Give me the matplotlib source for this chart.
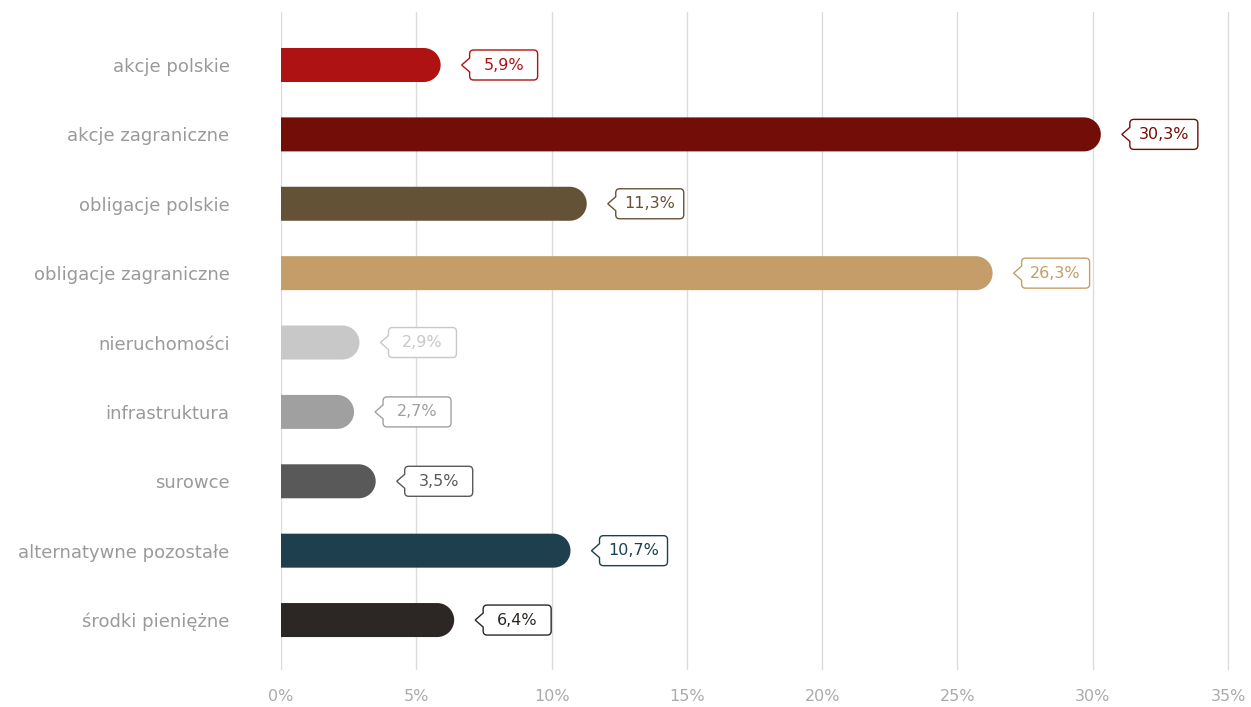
import numpy as np
import matplotlib.pyplot as plt
from matplotlib.path import Path
from matplotlib.patches import Polygon

categories = ["akcje polskie", "akcje zagraniczne", "obligacje polskie",
              "obligacje zagraniczne", "nieruchomości", "infrastruktura",
              "surowce", "alternatywne pozostałe", "środki pieniężne"]
values = [5.9, 30.3, 11.3, 26.3, 2.9, 2.7, 3.5, 10.7, 6.4]
colors = ["#AF1212", "#720D08", "#635236", "#C49D69", "#C8C8C8",
          "#A0A0A0", "#595959", "#1E3F4E", "#2C2724"]
ticks = [0, 5, 10, 15, 20, 25, 30, 35]

plt.rcParams['font.family'] = ['DejaVu Sans']

DPI = 100
fig = plt.figure(figsize=(12.51, 7.07), dpi=DPI)
W, H = 1251, 707
# axes a bit wider than the 35% line so the last gridline is not clipped
ax = fig.add_axes([281 / W, 1 - 670 / H, (1232 - 281) / W, (670 - 12) / H])

n = len(categories)
ys = list(range(n))
px_per_unit = (1228 - 281) / 35
ax.set_xlim(0, (1232 - 281) / px_per_unit)
ax.set_ylim(n - 1 + 0.72, -0.764)

# bar thickness 34 px, rounded right end (half circle in pixels)
bar_px = 34
r = (bar_px / 2) / px_per_unit
bar_h = bar_px / ((670 - 12) / (n - 1 + 0.72 + 0.764))
t = np.linspace(-np.pi / 2, np.pi / 2, 40)

for y, v, c in zip(ys, values, colors):
    hh = bar_h / 2
    xs = [0] + list(v - r + r * np.cos(t)) + [0]
    yy = [y - hh] + list(y + hh * np.sin(t)) + [y + hh]
    ax.add_patch(Polygon(np.column_stack([xs, yy]), closed=True, fc=c,
                         ec='none', zorder=3))


def callout(x0, y0, width, height, mutation_size):
    cx = x0 + width / 2
    cy = y0 + height / 2
    hw, hh = 34, 15
    k = 4  # corner radius
    nw, nh = 8, 7  # notch
    L, R, B, T = cx - hw, cx + hw, cy - hh, cy + hh
    verts = [
        (L + k, B), (R - k, B), (R, B), (R, B + k),
        (R, T - k), (R, T), (R - k, T),
        (L + k, T), (L, T), (L, T - k),
        (L, cy + nh), (L - nw, cy), (L, cy - nh),
        (L, B + k), (L, B), (L + k, B), (L + k, B),
    ]
    codes = [Path.MOVETO, Path.LINETO, Path.CURVE3, Path.CURVE3,
             Path.LINETO, Path.CURVE3, Path.CURVE3,
             Path.LINETO, Path.CURVE3, Path.CURVE3,
             Path.LINETO, Path.LINETO, Path.LINETO,
             Path.LINETO, Path.CURVE3, Path.CURVE3, Path.CLOSEPOLY]
    return Path(verts, codes)


for y, v, c in zip(ys, values, colors):
    label = f"{v:.1f}".replace(".", ",") + "%"
    ax.annotate(label, xy=(v, y), xytext=(29 + 34, 0), textcoords='offset pixels',
                ha='center', va='center', fontsize=11.5, color=c, zorder=4,
                bbox=dict(boxstyle=callout, fc='white', ec=c, lw=1))

ax.set_yticks(ys)
ax.set_yticklabels(categories, fontsize=13, color='#9A9A9A')
ax.set_xticks(ticks)
ax.set_xticklabels([f"{t}%" for t in ticks], fontsize=11.5, color='#AAAAAA')
ax.tick_params(axis='y', length=0, pad=37)
ax.tick_params(axis='x', length=0, pad=14)
ax.grid(axis='x', color='#DCDCDC', linewidth=1, zorder=0)
ax.set_axisbelow(True)
for s in ax.spines.values():
    s.set_visible(False)

fig.savefig("out.png", dpi=DPI)
